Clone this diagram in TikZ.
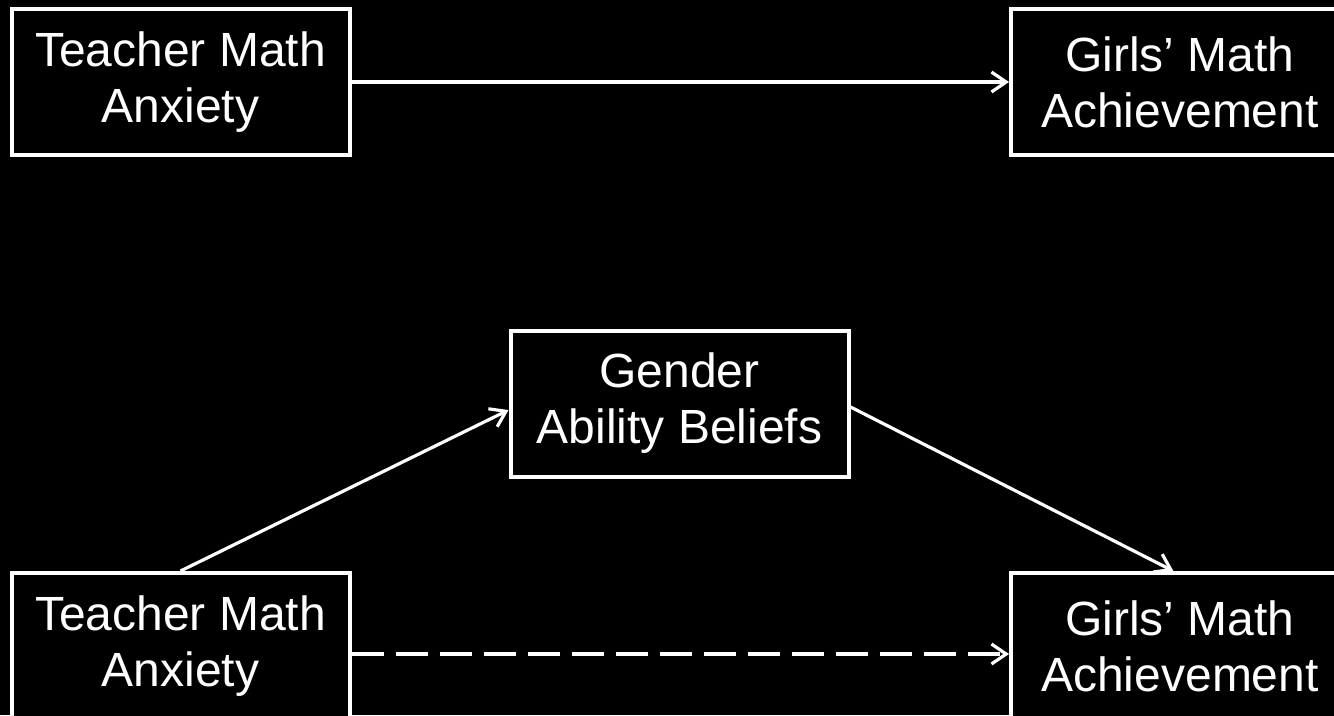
\documentclass[tikz,border=0pt]{standalone}
\usepackage{fontspec}
\setmainfont{Liberation Sans}
\usetikzlibrary{arrows.meta}

\begin{document}
\begin{tikzpicture}[x=0.75pt,y=-0.75pt,>={Straight Barb[length=11pt,width=15pt]},
  box/.style={draw=white, line width=3pt, fill=black, text=white, align=center,
    minimum width=253.5pt, minimum height=109.5pt, inner sep=0pt,
    font=\fontsize{36}{42}\selectfont},
  link/.style={->, draw=white, line width=2.4pt}]
  \fill[black] (0,0) rectangle (1334,715);
  \useasboundingbox (0,0) rectangle (1334,715);
  \clip (0,0) rectangle (1334,715);
  % direct effect
  \node[box] (tma1) at (180.5,82) {Teacher Math\\Anxiety};
  \node[box] (gma1) at (1180,82) {Girls’ Math\\Achievement};
  \draw[link] (tma1.east) -- (gma1.west);
  % mediated effect
  \node[box] (gab) at (679.5,403.5) {Gender\\Ability Beliefs};
  \node[box] (tma2) at (180.5,646) {Teacher Math\\Anxiety};
  \node[box] (gma2) at (1180,646) {Girls’ Math\\Achievement};
  \draw[link] (tma2.north) -- ([yshift=-4.9pt]gab.west);
  \draw[link] ([yshift=-2.6pt]gab.east) -- ([xshift=-5pt]gma2.north);
  \draw[link, dash pattern=on 24pt off 9pt] ([yshift=-6pt]tma2.east) -- ([yshift=-6pt]gma2.west);
\end{tikzpicture}
\end{document}
